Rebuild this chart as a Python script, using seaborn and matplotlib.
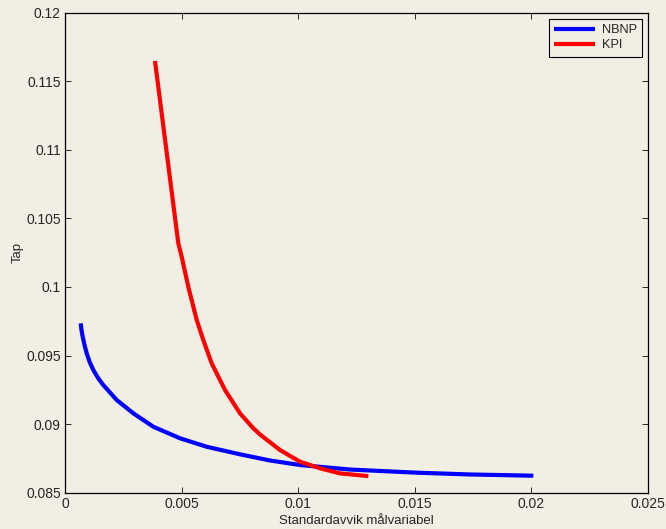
import matplotlib
matplotlib.use("Agg")
import matplotlib.pyplot as plt
import seaborn as sns
import pandas as pd

nbnp_x = [0.000673, 0.000710, 0.000759, 0.000840, 0.000931, 0.001060, 0.001214,
          0.001420, 0.001642, 0.002217, 0.002929, 0.003787, 0.004931, 0.006076,
          0.007504, 0.008790, 0.010077, 0.012220, 0.015081, 0.017370, 0.020082]
nbnp_y = [0.09735, 0.09683, 0.09637, 0.09575, 0.09516, 0.09452, 0.09395,
          0.09336, 0.09285, 0.09176, 0.09079, 0.08981, 0.08897, 0.08835,
          0.08780, 0.08735, 0.08702, 0.08669, 0.08646, 0.08633, 0.08624]

kpi_x = [0.003859, 0.004858, 0.005004, 0.005287, 0.005648, 0.005931, 0.006291,
         0.006861, 0.007504, 0.008074, 0.008362, 0.009220, 0.010077, 0.010935,
         0.011792, 0.013006]
kpi_y = [0.11648, 0.10319, 0.10221, 0.10002, 0.09759, 0.09613, 0.09443,
         0.09249, 0.09079, 0.08970, 0.08925, 0.08811, 0.08726, 0.08678,
         0.08641, 0.08621]

series_names = ["NBNP", "KPI"]
xticks = [0, 0.005, 0.01, 0.015, 0.02, 0.025]
xtick_labels = ["0", "0.005", "0.01", "0.015", "0.02", "0.025"]
yticks = [0.085, 0.09, 0.095, 0.1, 0.105, 0.11, 0.115, 0.12]
ytick_labels = ["0.085", "0.09", "0.095", "0.1", "0.105", "0.11", "0.115", "0.12"]

df = pd.concat([
    pd.DataFrame({"x": nbnp_x, "y": nbnp_y, "serie": series_names[0]}),
    pd.DataFrame({"x": kpi_x, "y": kpi_y, "serie": series_names[1]}),
], ignore_index=True)

sns.set_style("ticks")
bg = "#F1EEE4"
plt.rcParams["font.family"] = ["Liberation Sans", "DejaVu Sans"]
plt.rcParams["xtick.direction"] = "in"
plt.rcParams["ytick.direction"] = "in"
plt.rcParams["lines.solid_capstyle"] = "butt"

fig = plt.figure(figsize=(6.66, 5.29), dpi=100, facecolor=bg)
ax = fig.add_axes([0.0976, 0.0686, 0.8754, 0.9074])
ax.set_facecolor(bg)

sns.lineplot(data=df, x="x", y="y", hue="serie", sort=False, estimator=None,
             palette={"NBNP": "#0000FF", "KPI": "#FF0000"}, linewidth=3,
             ax=ax, legend=True)

ax.set_xlim(0, 0.025)
ax.set_ylim(0.085, 0.12)
ax.set_xticks(xticks)
ax.set_xticklabels(xtick_labels)
ax.set_yticks(yticks)
ax.set_yticklabels(ytick_labels)
ax.tick_params(axis="both", which="both", direction="in", length=4, width=0.7,
               top=True, right=True, labelsize=10, colors="#262626", pad=3)
for s in ax.spines.values():
    s.set_visible(True)
    s.set_color("black")
    s.set_linewidth(0.9)

ax.set_xlabel("Standardavvik målvariabel", fontsize=9.5, color="#262626", labelpad=3)
ax.set_ylabel("Tap", fontsize=9.5, color="#262626", labelpad=2)

leg = ax.legend(loc="upper right", fontsize=9.2, frameon=True, fancybox=False,
                handlelength=3.2, borderaxespad=0.5, borderpad=0.4,
                labelspacing=0.25, handletextpad=0.5)
leg.get_frame().set_edgecolor("black")
leg.get_frame().set_linewidth(0.8)
leg.get_frame().set_facecolor(bg)
leg.get_frame().set_alpha(1)
leg.set_title(None)

fig.savefig("out.png", dpi=100, facecolor=bg)
